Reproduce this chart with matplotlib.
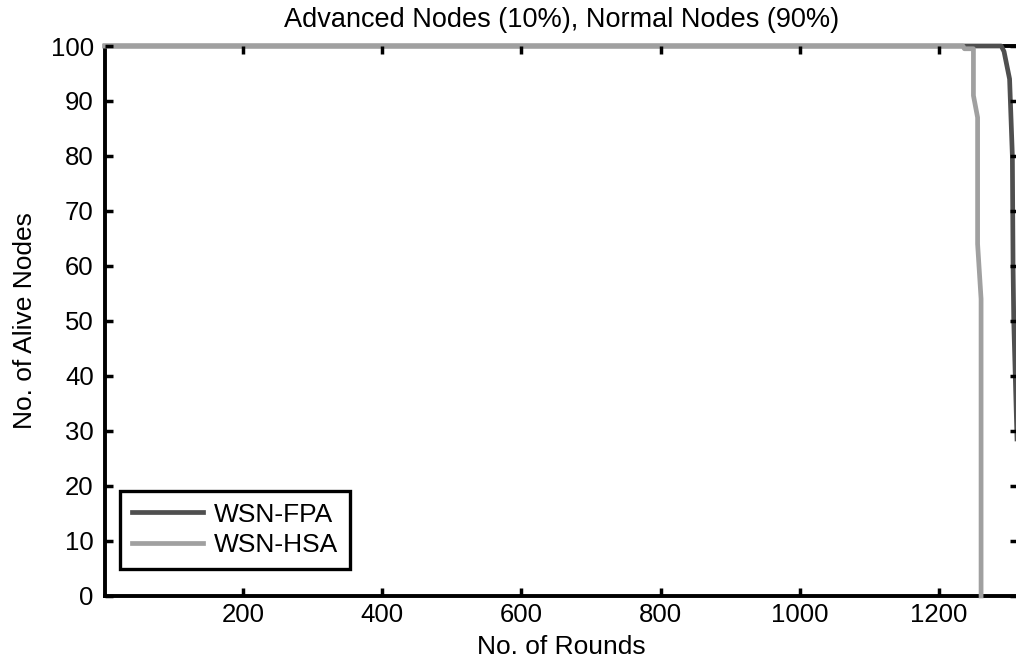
import matplotlib
matplotlib.use("Agg")
import matplotlib.pyplot as plt

# values
fpa_rounds = [1, 1290, 1294, 1302, 1306, 1307, 1308, 1313, 1320, 1330]
fpa_alive = [100, 100, 99, 94, 80, 60, 50, 27, 10, 0]
hsa_rounds = [1, 1235, 1237, 1250, 1250, 1256, 1256, 1261, 1261]
hsa_alive = [100, 100, 99.5, 99.5, 91, 87, 64, 54, 0]

xticks = [200, 400, 600, 800, 1000, 1200]
yticks = list(range(0, 101, 10))

plt.rcParams['font.family'] = ['Liberation Sans', 'DejaVu Sans']
plt.rcParams['font.size'] = 18.5

fig = plt.figure(figsize=(10.16, 6.6), dpi=100)
ax = fig.add_axes([0.1033, 0.0970, 0.8986, 0.8333])

ax.plot(fpa_rounds, fpa_alive, color='#4f4f4f', lw=3.4, label='WSN-FPA',
        clip_on=False, zorder=2)
ax.plot(hsa_rounds, hsa_alive, color='#a0a0a0', lw=3.4, label='WSN-HSA',
        clip_on=False, zorder=2.1)

ax.set_xlim(1, 1314)
ax.set_ylim(0, 100)
ax.set_xticks(xticks)
ax.set_yticks(yticks)

for s in ax.spines.values():
    s.set_linewidth(2.8)
    s.set_zorder(1)
ax.set_axisbelow(False)
ax.tick_params(direction='in', length=5.5, width=2.5, top=True, right=True,
               labelsize=18.5)
ax.tick_params(axis='x', pad=5)
ax.tick_params(axis='y', pad=8)

ax.set_title('Advanced Nodes (10%), Normal Nodes (90%)', fontsize=19.5, pad=14)
ax.set_xlabel('No. of Rounds', fontsize=19, labelpad=6)
ax.set_ylabel('No. of Alive Nodes', fontsize=19, labelpad=10)

leg = ax.legend(loc='lower left', bbox_to_anchor=(0.0164, 0.049),
                borderaxespad=0, fancybox=False, framealpha=1,
                edgecolor='black', fontsize=19, handlelength=2.7,
                handletextpad=0.4, labelspacing=0.25, borderpad=0.45)
leg.get_frame().set_linewidth(2.4)
for ln in leg.get_lines():
    ln.set_linewidth(3.4)

fig.savefig('out.png', dpi=100)
